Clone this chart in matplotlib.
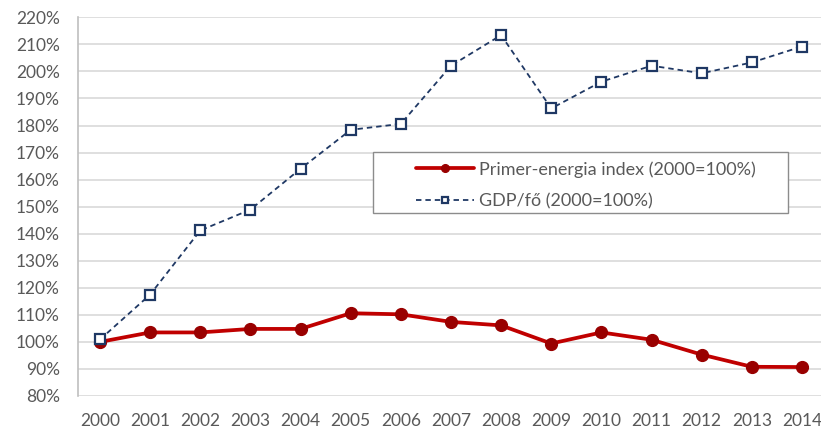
import matplotlib.pyplot as plt
from matplotlib.patches import Rectangle
from matplotlib.ticker import FuncFormatter

years = list(range(2000, 2015))
energy_index = [100.0, 103.5, 103.5, 104.8, 104.8, 110.6, 110.2, 107.4, 106.1,
                99.4, 103.5, 100.8, 95.3, 90.8, 90.7]
gdp_index = [100.9, 117.5, 141.2, 148.9, 164.0, 178.4, 180.6, 202.1, 213.4,
             186.3, 196.2, 202.1, 199.3, 203.3, 209.2]

grey_text = '#595959'
plt.rcParams['font.family'] = ['Lato', 'DejaVu Sans']

fig = plt.figure(figsize=(8.21, 4.32), dpi=100)
ax = fig.add_axes([77.7 / 821, 1 - 396 / 432, 1 - 77.7 / 821, (396 - 17.3) / 432])

ax.plot(years, energy_index, color='#c00000', linewidth=2.7, marker='o',
        markersize=8.5, markerfacecolor='#990000', markeredgecolor='#990000',
        solid_capstyle='round', zorder=3, label='Primer-energia index (2000=100%)')
ax.plot(years, gdp_index, color='#1f3864', linewidth=1.3, linestyle=(0, (3, 2.2)),
        marker='s', markersize=7.5, markerfacecolor='white', markeredgecolor='#1f3864',
        markeredgewidth=1.6, zorder=4, label='GDP/fő (2000=100%)')

ax.set_xlim(1999.555, 2014.38)
ax.set_ylim(80, 220)
ax.set_yticks(range(80, 221, 10))
ax.set_xticks(years)
ax.yaxis.set_major_formatter(FuncFormatter(lambda v, p: f'{v:.0f}%'))
ax.grid(axis='y', color='#d9d9d9', linewidth=1.2)
ax.set_axisbelow(True)
ax.tick_params(length=0, labelsize=12.5, labelcolor=grey_text)
ax.tick_params(axis='x', pad=12)
ax.tick_params(axis='y', pad=13)
for side in ['top', 'right', 'bottom']:
    ax.spines[side].set_visible(False)
ax.spines['left'].set_color('#bfbfbf')
ax.spines['left'].set_linewidth(1.2)

# legend box drawn separately to match the wide frame
fig.patches.append(Rectangle((372.7 / 821, 1 - 213.3 / 432), (787.7 - 372.7) / 821,
                             (213.3 - 151.7) / 432, transform=fig.transFigure,
                             facecolor='white', edgecolor='#8c8c8c', linewidth=1.0, zorder=5))
leg = fig.legend(loc='upper left', bbox_to_anchor=(409 / 821, 1 - 154 / 432),
                 frameon=False, fontsize=13, handlelength=3.2, handletextpad=0.3,
                 labelspacing=0.85, borderaxespad=0, markerscale=0.65)
leg.set_zorder(6)
for text in leg.get_texts():
    text.set_color(grey_text)

fig.savefig('out.png', dpi=100)
